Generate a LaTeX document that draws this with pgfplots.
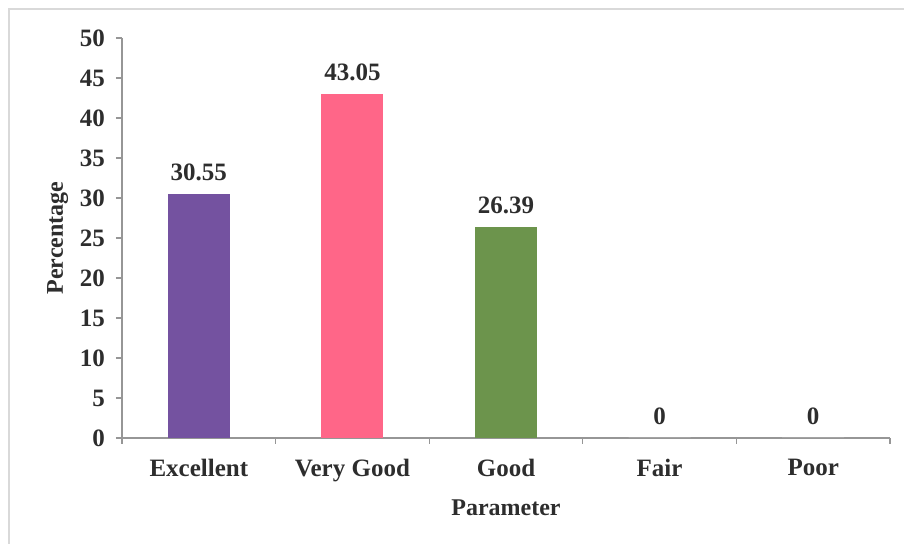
\documentclass[border=0pt]{standalone}
\usepackage{fontspec}
\setmainfont{Liberation Serif}
\usepackage{pgfplots}
\pgfplotsset{compat=1.18}

\definecolor{barpurple}{RGB}{116,82,160}
\definecolor{barpink}{RGB}{255,102,136}
\definecolor{bargreen}{RGB}{108,148,76}
\definecolor{txt}{RGB}{45,45,45}
\definecolor{axgray}{RGB}{150,150,150}

\begin{document}
\begin{tikzpicture}
% page is 452pt x 272pt (0.5pt per reference pixel)
\useasboundingbox (-61pt,-53pt) rectangle (391pt,219pt);
\draw[black!15, line width=1pt] (-56.5pt,-53pt) -- (-56.5pt,214.5pt) -- (391pt,214.5pt);

\begin{axis}[
  scale only axis,
  width=384pt, height=200pt,
  xmin=-0.5, xmax=4.5,
  ymin=0, ymax=50,
  ytick={0,5,...,50},
  xtick={-0.5,0.5,...,4.5},
  xticklabels={Excellent,Very Good,Good,Fair,Poor},
  x tick label as interval,
  axis x line*=bottom,
  axis y line*=left,
  axis line style={axgray, line width=0.6pt},
  tick style={axgray, line width=0.6pt},
  tick align=outside,
  major tick length=3pt,
  ticklabel style={font=\fontsize{12.5}{14}\selectfont\bfseries, text=txt},
  /pgf/number format/assume math mode=true,
  xticklabel style={yshift=-4pt},
  yticklabel style={xshift=-2pt},
  xlabel={Parameter},
  ylabel={Percentage},
  label style={font=\fontsize{12}{14}\selectfont\bfseries, text=txt},
  xlabel style={yshift=-2pt},
  ylabel style={yshift=-1pt},
  ybar, bar width=31pt, bar shift=0pt,
  nodes near coords,
  nodes near coords style={font=\fontsize{12.5}{14}\selectfont\bfseries, text=txt, yshift=3pt,
    /pgf/number format/.cd, fixed, precision=2, assume math mode=true},
  clip=false,
]
\addplot[fill=barpurple, draw=none] coordinates {(0,30.55)};
\addplot[fill=barpink, draw=none] coordinates {(1,43.05)};
\addplot[fill=bargreen, draw=none] coordinates {(2,26.39)};
\addplot[fill=white, draw=none] coordinates {(3,0) (4,0)};
\end{axis}
\end{tikzpicture}
\end{document}
